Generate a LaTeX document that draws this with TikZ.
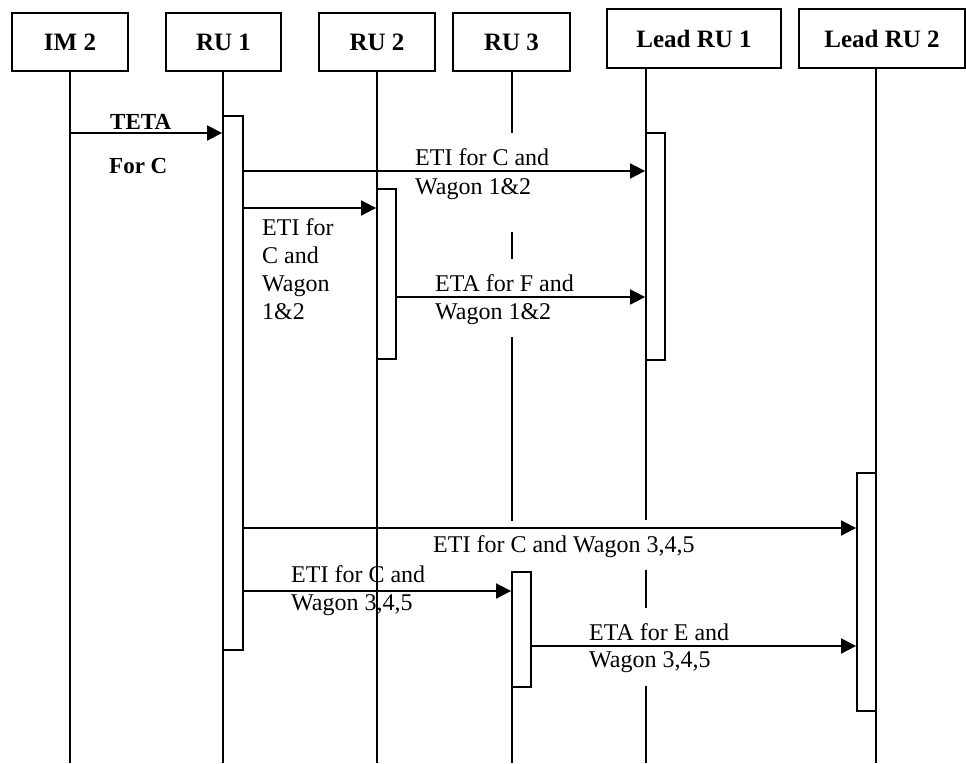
\documentclass[tikz,border=0pt]{standalone}
\usepackage{fontspec}
\setmainfont{Liberation Serif}
\usetikzlibrary{arrows.meta}
\begin{document}
\begin{tikzpicture}[x=1pt,y=-1pt,
  hdr/.style={draw, line width=1.8pt, inner sep=0pt, font=\fontsize{25}{30}\selectfont\bfseries},
  life/.style={line width=1.8pt},
  act/.style={draw, line width=1.8pt, fill=white, inner sep=0pt, minimum width=19pt},
  msg/.style={line width=1.8pt, -{Triangle[length=15pt,width=15pt]}},
  lbl/.style={anchor=base west, inner sep=0pt, font=\fontsize{24}{28}\selectfont},
  blbl/.style={anchor=base west, inner sep=0pt, font=\fontsize{23}{28}\selectfont\bfseries}]
\useasboundingbox (0,0) rectangle (966,763);

% headers
\node[hdr, minimum width=116pt, minimum height=58pt] (im2) at (70,42) {IM 2};
\node[hdr, minimum width=115pt, minimum height=58pt] (ru1) at (223.5,42) {RU 1};
\node[hdr, minimum width=116pt, minimum height=58pt] (ru2) at (377,42) {RU 2};
\node[hdr, minimum width=117pt, minimum height=58pt] (ru3) at (511.5,42) {RU 3};
\node[hdr, minimum width=174pt, minimum height=59pt] (lru1) at (694,38.5) {Lead RU 1};
\node[hdr, minimum width=166pt, minimum height=59pt] (lru2) at (882,38.5) {Lead RU 2};

% labels
\node[blbl] (tteta) at (110,129) {TETA};
\node[blbl] (tforc) at (109,173) {For C};
\node[lbl] (m1a) at (415,165) {ETI for C and};
\node[lbl] (m1b) at (415,194) {Wagon 1\&2};
\node[lbl] (m2a) at (262,235) {ETI for};
\node[lbl] (m2b) at (262,263) {C and};
\node[lbl] (m2c) at (262,291) {Wagon};
\node[lbl] (m2d) at (262,319) {1\&2};
\node[lbl] (m3a) at (435,291) {ETA for F and};
\node[lbl] (m3b) at (435,319) {Wagon 1\&2};
\node[lbl] (m4a) at (433,552) {ETI for C and Wagon 3,4,5};
\node[lbl] (m5a) at (291,582) {ETI for C and};
\node[lbl] (m5b) at (291,610) {Wagon 3,4,5};
\node[lbl] (m6a) at (589,640) {ETA for E and};
\node[lbl] (m6b) at (589,667) {Wagon 3,4,5};

% lifeline coordinates
\coordinate (im2b) at (70,763);
\coordinate (ru1b) at (223,763);
\coordinate (ru2b) at (377,763);
\coordinate (ru3t) at (512,71);
\coordinate (lru1t) at (646,68);
\coordinate (lru2t) at (876,68);

% lifelines
\draw[life] (im2.south) -- (im2b);
\draw[life] (ru1.south -| ru1b) -- (ru1b);
\draw[life] (ru2.south) -- (ru2b);
\draw[life] (ru3t) -- (512,133);
\draw[life] (512,232) -- (512,259);
\draw[life] (512,337) -- (512,521);
\draw[life] (512,687) -- (512,763);
\draw[life] (lru1t) -- (646,520);
\draw[life] (646,570) -- (646,608);
\draw[life] (646,686) -- (646,763);
\draw[life] (lru2t) -- (876,763);

% activation boxes
\node[act, minimum width=20pt, minimum height=534pt] (a1) at (233,383) {};
\node[act, minimum height=170pt] (a2) at (386.5,274) {};
\node[act, minimum height=227pt] (l1a) at (655.5,246.5) {};
\node[act, minimum height=238pt] (l2a) at (866.5,592) {};
\node[act, minimum height=115pt] (a3) at (521.5,629.5) {};

% messages
\draw[msg] (im2.south |- 0,133) -- (a1.west |- 0,133);
\draw[msg] (a1.east |- 0,171) -- (l1a.west |- 0,171);
\draw[msg] (a1.east |- 0,208) -- (a2.west |- 0,208);
\draw[msg] (a2.east |- 0,297) -- (l1a.west |- 0,297);
\draw[msg] (a1.east |- 0,528) -- (l2a.west |- 0,528);
\draw[msg] (a1.east |- 0,591) -- (a3.west |- 0,591);
\draw[msg] (a3.east |- 0,646) -- (l2a.west |- 0,646);
\end{tikzpicture}
\end{document}
